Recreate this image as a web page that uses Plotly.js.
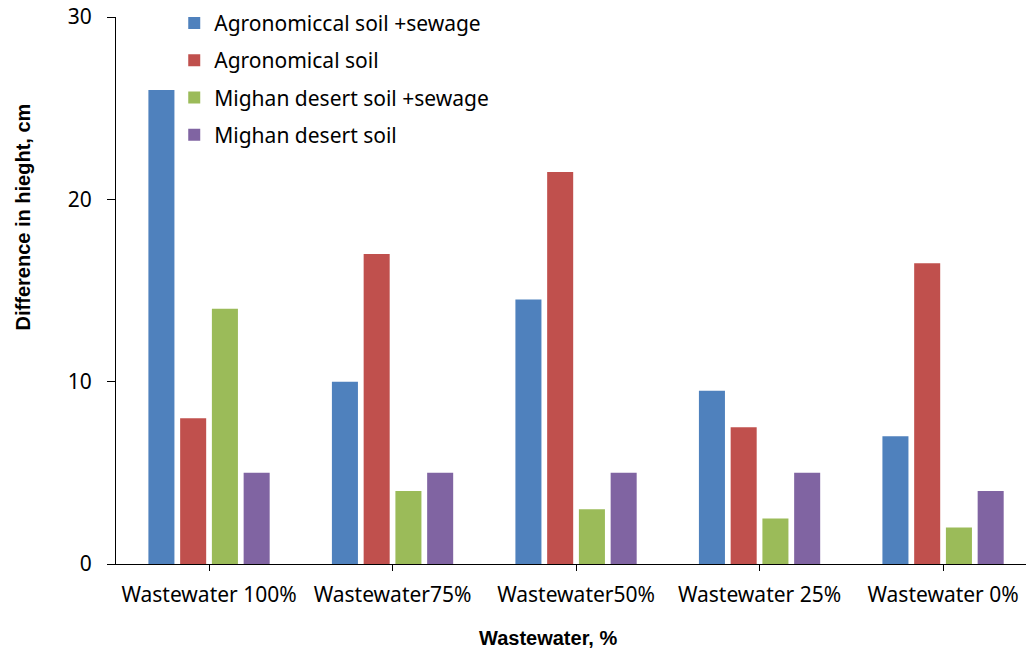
<!DOCTYPE html>
<html>
<head>
<meta charset="utf-8">
<script src="https://cdn.plot.ly/plotly-3.0.1.min.js"></script>
<style>html,body{margin:0;padding:0;background:#fff;}#chart{width:1026px;height:650px;}</style>
</head>
<body>
<div id="chart"></div>
<script>
const categories = ["Wastewater 100%", "Wastewater75%", "Wastewater50%", "Wastewater 25%", "Wastewater 0%"];
const agronomicSewage = [26, 10, 14.5, 9.5, 7];
const agronomicSoil = [8, 17, 21.5, 7.5, 16.5];
const mighanSewage = [14, 4, 3, 2.5, 2];
const mighanSoil = [5, 5, 5, 5, 4];
const seriesNames = ["Agronomiccal soil +sewage", "Agronomical soil", "Mighan desert soil +sewage", "Mighan desert soil"];
const seriesColors = ["#4F81BD", "#C0504D", "#9BBB59", "#8064A2"];
const seriesValues = [agronomicSewage, agronomicSoil, mighanSewage, mighanSoil];
const yTicks = [0, 10, 20, 30];

const traces = seriesValues.map((vals, i) => ({
  type: "bar",
  name: seriesNames[i],
  x: categories,
  y: vals,
  legendgroup: "g" + i,
  marker: {color: seriesColors[i], line: {width: 0}},
  hoverinfo: "x+y+name"
}));

const tickFont = {family: "Noto Sans, sans-serif", size: 21, color: "#000"};
const titleFont = {family: "Liberation Sans, Arial, sans-serif", size: 20, color: "#000"};

const layout = {
  width: 1026, height: 650,
  margin: {l: 116, r: 0, t: 17, b: 86},
  paper_bgcolor: "#fff", plot_bgcolor: "#fff",
  barmode: "group",
  bargap: 0.308,
  bargroupgap: 0.18,
  showlegend: true,
  legend: {
    x: 0.064, y: 1.026, xanchor: "left", yanchor: "top",
    font: tickFont, bgcolor: "rgba(0,0,0,0)",
    traceorder: "grouped", tracegroupgap: 7, itemwidth: 30
  },
  xaxis: {
    type: "category",
    range: [-0.507, 4.452],
    showline: true, linecolor: "#000", linewidth: 1,
    ticks: "outside", ticklen: 6, tickcolor: "#000",
    showgrid: false, zeroline: false,
    tickfont: tickFont,
    ticklabelstandoff: 6
  },
  yaxis: {
    range: [0, 30],
    tickvals: yTicks, ticktext: yTicks.map(String),
    showline: true, linecolor: "#000", linewidth: 1,
    ticks: "outside", ticklen: 8, tickcolor: "#000",
    showgrid: false, zeroline: false,
    tickfont: tickFont,
    ticklabelstandoff: 11
  },
  annotations: [
    {text: "<b>Difference in hieght, cm</b>", xref: "paper", yref: "paper",
     x: -0.102, y: 0.634, xanchor: "center", yanchor: "middle",
     textangle: -90, showarrow: false, font: titleFont},
    {text: "<b>Wastewater, %</b>", xref: "paper", yref: "paper",
     x: 0.475, y: -0.135, xanchor: "center", yanchor: "middle",
     showarrow: false, font: titleFont}
  ]
};

Plotly.newPlot("chart", traces, layout, {displayModeBar: false, responsive: false});
</script>
</body>
</html>
